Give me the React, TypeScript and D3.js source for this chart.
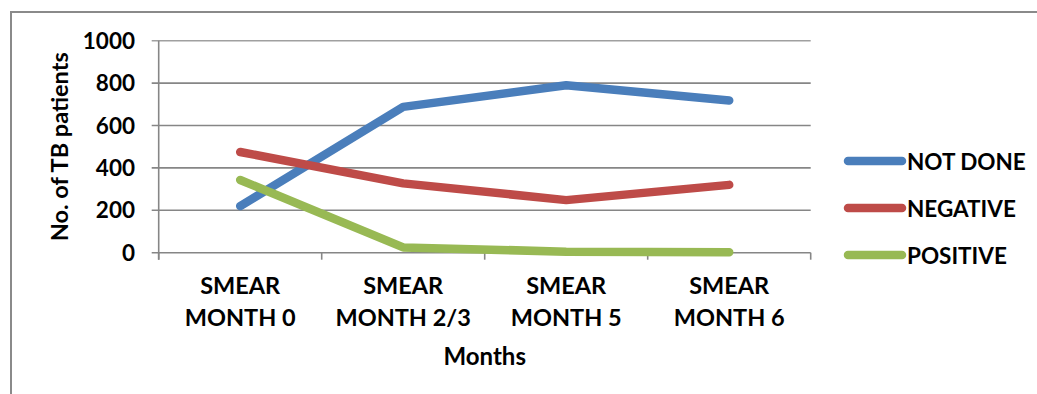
import React from "react";
import * as d3 from "d3";

// Smear examination results by follow-up month
const categories = ["SMEAR MONTH 0", "SMEAR MONTH 2/3", "SMEAR MONTH 5", "SMEAR MONTH 6"];
const notDone = [220, 688, 790, 718];
const negative = [475, 327, 248, 320];
const positive = [343, 25, 5, 2];
const seriesNames = ["NOT DONE", "NEGATIVE", "POSITIVE"];
const seriesColors = ["#4A7EBB", "#BE4B48", "#98B954"];
const yTicks = [0, 200, 400, 600, 800, 1000];

const W = 1037;
const H = 394;
const FONT = "Lato, 'Open Sans', sans-serif";

export default function App() {
  const left = 158.7;
  const right = 810.7;
  const top = 40.7;
  const bottom = 252.7;

  const x = d3.scaleBand<string>().domain(categories).range([left, right]);
  const y = d3.scaleLinear().domain([0, 1000]).range([bottom, top]);
  const cx = (c: string) => (x(c) ?? 0) + x.bandwidth() / 2;

  const series = [notDone, negative, positive];
  const line = d3
    .line<number>()
    .x((_, i) => cx(categories[i]))
    .y((v) => y(v));

  const axisColor = "#868686";

  return (
    <svg
      width={W}
      height={H}
      style={{ position: "absolute", left: 0, top: 0, background: "#fff" }}
      fontFamily={FONT}
      fontWeight={700}
    >
      {/* chart frame */}
      <path d={`M11,${H + 5} V12 H${W + 5}`} fill="none" stroke="#8A8A8A" strokeWidth={2} />

      {/* horizontal gridlines */}
      {yTicks.map((t) => (
        <line
          key={t}
          x1={left - 7}
          x2={right}
          y1={y(t)}
          y2={y(t)}
          stroke={t === 1000 ? "#A0A0A0" : axisColor}
          strokeWidth={1.6}
        />
      ))}

      {/* y axis */}
      <line x1={left} x2={left} y1={top} y2={bottom + 7} stroke={axisColor} strokeWidth={1.6} />

      {/* category tick marks */}
      {d3.range(categories.length + 1).map((i) => {
        const xx = left + i * x.bandwidth();
        return <line key={i} x1={xx} x2={xx} y1={bottom} y2={bottom + 7} stroke={axisColor} strokeWidth={1.6} />;
      })}

      {/* y tick labels */}
      {yTicks.map((t) => (
        <text key={t} x={135} y={y(t) + 8} textAnchor="end" fontSize={22.5} fill="#000">
          {t}
        </text>
      ))}

      {/* category labels */}
      {categories.map((c) => {
        const parts = c.split(" ");
        return (
          <text key={c} x={cx(c)} textAnchor="middle" fontSize={23.5} fill="#000">
            <tspan x={cx(c)} y={294}>
              {parts[0]}
            </tspan>
            <tspan x={cx(c)} y={326}>
              {parts.slice(1).join(" ")}
            </tspan>
          </text>
        );
      })}

      {/* axis titles */}
      <text x={(left + right) / 2} y={365} textAnchor="middle" fontSize={24} fill="#000">
        Months
      </text>
      <text
        transform={`translate(68,${(top + bottom) / 2}) rotate(-90)`}
        textAnchor="middle"
        fontSize={23.5}
        fill="#000"
      >
        No. of TB patients
      </text>

      {/* series lines */}
      {series.map((s, i) => (
        <path
          key={seriesNames[i]}
          d={line(s) ?? ""}
          fill="none"
          stroke={seriesColors[i]}
          strokeWidth={8.5}
          strokeLinecap="round"
          strokeLinejoin="round"
        />
      ))}

      {/* legend */}
      {seriesNames.map((n, i) => {
        const ly = 161 + i * 47;
        return (
          <g key={n}>
            <line x1={848} x2={902} y1={ly} y2={ly} stroke={seriesColors[i]} strokeWidth={8.5} strokeLinecap="round" />
            <text x={907} y={ly + 9} fontSize={22.5} fill="#000">
              {n}
            </text>
          </g>
        );
      })}
    </svg>
  );
}
